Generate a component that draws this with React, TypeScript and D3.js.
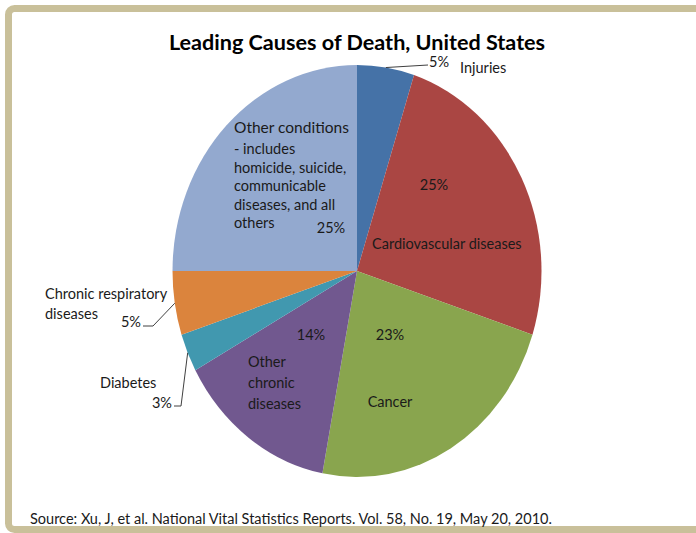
import * as d3 from 'd3'

const causes = [
  'Injuries',
  'Cardiovascular diseases',
  'Cancer',
  'Other chronic diseases',
  'Diabetes',
  'Chronic respiratory diseases',
  'Other conditions',
]
const shares = [5, 25, 23, 14, 3, 5, 25]
const colors = ['#4572A7', '#AA4643', '#89A54E', '#71588F', '#4198AF', '#DB843D', '#93A9CF']

const TITLE = 'Leading Causes of Death, United States'
const SOURCE = 'Source: Xu, J, et al. National Vital Statistics Reports. Vol. 58, No. 19, May 20, 2010.'

const W = 696
const H = 533
const cx = 357
const cy = 271
const rx = 184.5
const ry = 206

const FONT = 'Lato, "Open Sans", sans-serif'
const INK = '#1a1a1a'
const BODY = 14.5

type Line = { text: string; x: number; y: number; anchor?: string; size?: number }

// label placement for each slice (absolute page coordinates)
const nameLines: Line[][] = [
  [{ text: 'Injuries', x: 460, y: 68 }],
  [{ text: 'Cardiovascular diseases', x: 372, y: 244 }],
  [{ text: 'Cancer', x: 390, y: 402, anchor: 'middle' }],
  [
    { text: 'Other', x: 248, y: 362 },
    { text: 'chronic', x: 248, y: 383 },
    { text: 'diseases', x: 248, y: 404 },
  ],
  [{ text: 'Diabetes', x: 100, y: 383 }],
  [
    { text: 'Chronic respiratory', x: 45, y: 294 },
    { text: 'diseases', x: 45, y: 314 },
  ],
  [
    { text: 'Other conditions', x: 234, y: 128, size: 15.5 },
    { text: '- includes', x: 234, y: 149 },
    { text: 'homicide, suicide,', x: 234, y: 168 },
    { text: 'communicable', x: 234, y: 186 },
    { text: 'diseases, and all', x: 234, y: 205 },
    { text: 'others', x: 234, y: 223 },
  ],
]
const pctPos: Line[] = [
  { text: '', x: 429, y: 62 },
  { text: '', x: 434, y: 185, anchor: 'middle' },
  { text: '', x: 390, y: 335, anchor: 'middle' },
  { text: '', x: 311, y: 335, anchor: 'middle' },
  { text: '', x: 172, y: 403, anchor: 'end' },
  { text: '', x: 141, y: 322, anchor: 'end' },
  { text: '', x: 331, y: 228, anchor: 'middle' },
]
// leader line elbows (from label towards slice edge)
const leaders: Record<number, [number, number][]> = {
  0: [[428, 65]],
  4: [[174, 406], [181, 406]],
  5: [[143, 326], [153, 326]],
}

export default function App() {
  const pie = d3
    .pie<number>()
    .sort(null)
    .value((d) => d)
  const arcs = pie(shares)
  const arc = d3.arc<d3.PieArcDatum<number>>().innerRadius(0).outerRadius(rx)

  const edge = (a: number): [number, number] => [cx + rx * Math.sin(a), cy - ry * Math.cos(a)]

  return (
    <svg width={W} height={H} style={{ position: 'absolute', left: 0, top: 0, background: '#fff' }}>
      <rect x={8.5} y={8.5} width={W + 20} height={H - 12} rx={6} fill="#fff" stroke="#C9C09A" strokeWidth={7} />

      <text x={cx} y={42} dy="0.35em" textAnchor="middle" fontFamily={FONT} fontWeight={700} fontSize={21.6} fill="#000">
        {TITLE}
      </text>

      <g transform={`translate(${cx},${cy}) scale(1,${ry / rx})`}>
        {arcs.map((d, i) => (
          <path key={causes[i]} d={arc(d) ?? ''} fill={colors[i]} />
        ))}
      </g>

      {Object.entries(leaders).map(([k, pts]) => {
        const i = Number(k)
        const mid = (arcs[i].startAngle + arcs[i].endAngle) / 2
        const all = [...pts, edge(mid)]
        return (
          <path
            key={k}
            d={d3.line()(all) ?? ''}
            fill="none"
            stroke="#404040"
            strokeWidth={1}
          />
        )
      })}

      {nameLines.map((lines, i) =>
        lines.map((l) => (
          <text
            key={`${i}-${l.text}`}
            x={l.x}
            y={l.y}
            dy="0.35em"
            textAnchor={l.anchor ?? 'start'}
            fontFamily={FONT}
            fontSize={l.size ?? BODY}
            fill={INK}
          >
            {l.text}
          </text>
        )),
      )}

      {pctPos.map((p, i) => (
        <text
          key={`pct-${i}`}
          x={p.x}
          y={p.y}
          dy="0.35em"
          textAnchor={p.anchor ?? 'start'}
          fontFamily={FONT}
          fontSize={BODY}
          fill={INK}
        >
          {`${shares[i]}%`}
        </text>
      ))}

      <text x={30} y={519} dy="0.35em" fontFamily={FONT} fontSize={BODY} fill={INK}>
        {SOURCE}
      </text>
    </svg>
  )
}
